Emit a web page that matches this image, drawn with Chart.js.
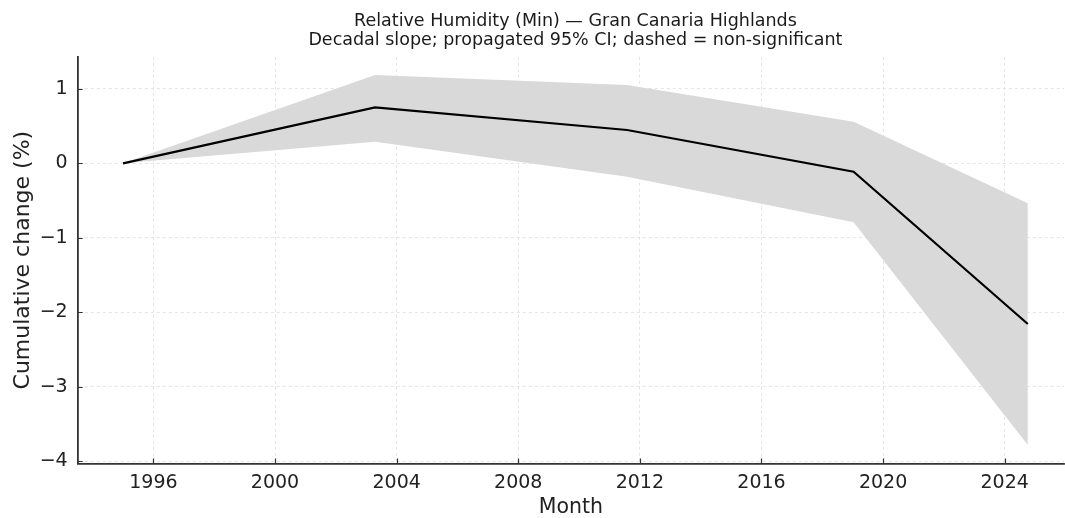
<!DOCTYPE html>
<html>
<head>
<meta charset="utf-8">
<title>Relative Humidity (Min) — Gran Canaria Highlands</title>
<script src="https://cdn.jsdelivr.net/npm/chart.js@4.4.1/dist/chart.umd.min.js"></script>
<style>
    html, body { margin: 0; padding: 0; background: #ffffff; overflow: hidden; }
    #chartWrap { width: 1065px; height: 518px; }
</style>
</head>
<body>
<div id="chartWrap">
    <canvas id="humidityChart" width="1065" height="518"></canvas>
</div>
<script>
// Segment break points (decimal years) and cumulative change in %
const years = [1995.0, 2003.29, 2011.58, 2019.03, 2024.76];
const cumulativeChange = [0, 0.752, 0.447, -0.113, -2.157];
// Propagated 95% confidence band
const ciUpper = [0, 1.185, 1.051, 0.558, -0.537];
const ciLower = [0, 0.29, -0.18, -0.79, -3.78];

// Axis ticks
const xTicks = [1996, 2000, 2004, 2008, 2012, 2016, 2020, 2024];
const yTicks = [-4, -3, -2, -1, 0, 1];

const titleLines = [
    'Relative Humidity (Min) — Gran Canaria Highlands',
    'Decadal slope; propagated 95% CI; dashed = non-significant'
];

const FONT = "'DejaVu Sans', sans-serif";
const INK = '#222222';
const SPINE = '#333333';
const GRID = '#dedede';
const X_MAX_FULL = 2026.25; // full axes extent, used to centre the title

function toPoints(values) {
    return years.map((yr, i) => ({ x: yr, y: values[i] }));
}

// Title centred over the axes and tick marks pointing into the plot
const axesDecor = {
    id: 'axesDecor',
    afterDraw(chart) {
        const ctx = chart.ctx;
        const area = chart.chartArea;
        const xs = chart.scales.x;
        const ys = chart.scales.y;

        ctx.save();
        ctx.strokeStyle = SPINE;
        ctx.lineWidth = 1.2;
        ctx.beginPath();
        xs.ticks.forEach(t => {
            const px = Math.round(xs.getPixelForValue(t.value)) + 0.5;
            ctx.moveTo(px, area.bottom);
            ctx.lineTo(px, area.bottom - 5);
        });
        ys.ticks.forEach(t => {
            const py = Math.round(ys.getPixelForValue(t.value)) + 0.5;
            ctx.moveTo(area.left, py);
            ctx.lineTo(area.left + 5, py);
        });
        ctx.stroke();

        const cx = (area.left + xs.getPixelForValue(X_MAX_FULL)) / 2;
        ctx.fillStyle = '#1a1a1a';
        ctx.font = '17.5px ' + FONT;
        ctx.textAlign = 'center';
        ctx.textBaseline = 'alphabetic';
        ctx.fillText(titleLines[0], cx, 26);
        ctx.fillText(titleLines[1], cx, 45);
        ctx.restore();
    }
};

let humidityChart = null;

document.addEventListener('DOMContentLoaded', function() {
    const ctx = document.getElementById('humidityChart');

    humidityChart = new Chart(ctx, {
        type: 'line',
        data: {
            datasets: [{
                label: 'Cumulative change',
                data: toPoints(cumulativeChange),
                borderColor: '#000000',
                borderWidth: 2.2,
                pointRadius: 0,
                tension: 0,
                fill: false
            }, {
                label: 'CI upper',
                data: toPoints(ciUpper),
                borderWidth: 0,
                borderColor: 'rgba(0,0,0,0)',
                backgroundColor: '#d9d9d9',
                pointRadius: 0,
                tension: 0,
                fill: '+1'
            }, {
                label: 'CI lower',
                data: toPoints(ciLower),
                borderWidth: 0,
                borderColor: 'rgba(0,0,0,0)',
                pointRadius: 0,
                tension: 0,
                fill: false
            }]
        },
        plugins: [axesDecor],
        options: {
            responsive: false,
            animation: false,
            devicePixelRatio: 1,
            layout: {
                padding: { left: 0, right: 1, top: 56.8, bottom: 0 }
            },
            plugins: {
                legend: { display: false },
                tooltip: { enabled: false },
                title: { display: false }
            },
            scales: {
                x: {
                    type: 'linear',
                    min: 1993.51,
                    max: 2025.95,
                    afterBuildTicks: function(scale) {
                        scale.ticks = xTicks.map(v => ({ value: v }));
                    },
                    afterFit: function(scale) {
                        scale.height = 54.5;
                    },
                    grid: {
                        color: GRID,
                        lineWidth: 0.8,
                        drawTicks: true,
                        tickLength: 5,
                        tickColor: 'rgba(0,0,0,0)'
                    },
                    border: {
                        display: true,
                        color: SPINE,
                        width: 1.8,
                        dash: [3, 3]
                    },
                    ticks: {
                        color: INK,
                        padding: 3,
                        maxRotation: 0,
                        autoSkip: false,
                        font: { family: FONT, size: 19 },
                        callback: function(value) {
                            return String(value);
                        }
                    },
                    title: {
                        display: true,
                        text: 'Month',
                        color: INK,
                        font: { family: FONT, size: 20.5, lineHeight: 1.05 },
                        padding: { top: 0, bottom: 0 }
                    }
                },
                y: {
                    type: 'linear',
                    min: -4.03,
                    max: 1.43,
                    afterBuildTicks: function(scale) {
                        scale.ticks = yTicks.map(v => ({ value: v }));
                    },
                    afterFit: function(scale) {
                        scale.width = 77.7;
                    },
                    grid: {
                        color: GRID,
                        lineWidth: 0.8,
                        drawTicks: true,
                        tickLength: 5,
                        tickColor: 'rgba(0,0,0,0)'
                    },
                    border: {
                        display: true,
                        color: SPINE,
                        width: 1.8,
                        dash: [3, 3]
                    },
                    ticks: {
                        color: INK,
                        padding: 5,
                        font: { family: FONT, size: 19 },
                        callback: function(value) {
                            return value < 0 ? '\u2212' + Math.abs(value) : String(value);
                        }
                    },
                    title: {
                        display: true,
                        text: 'Cumulative change (%)',
                        color: INK,
                        font: { family: FONT, size: 22 },
                        padding: { top: 10, bottom: 0 }
                    }
                }
            }
        }
    });
});
</script>
</body>
</html>
